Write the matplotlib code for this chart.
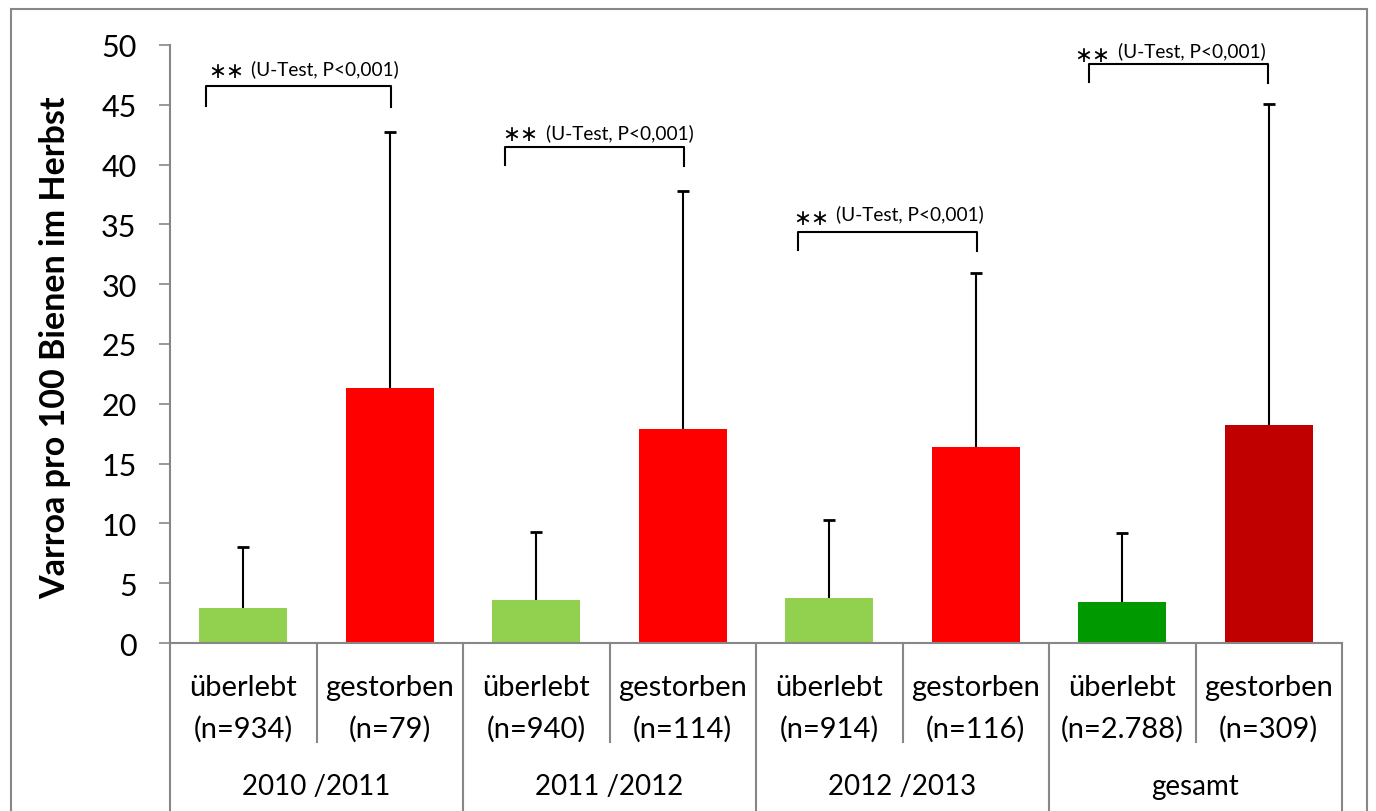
import numpy as np
import matplotlib.pyplot as plt
from matplotlib.patches import Rectangle

plt.rcParams['font.family'] = ['Lato', 'DejaVu Sans']

# Varroa load per 100 bees in autumn, by winter outcome
groups = ['2010 /2011', '2011 /2012', '2012 /2013', 'gesamt']
status = ['überlebt', 'gestorben'] * 4
n_labels = ['(n=934)', '(n=79)', '(n=940)', '(n=114)',
            '(n=914)', '(n=116)', '(n=2.788)', '(n=309)']
means = np.array([2.9, 21.3, 3.6, 17.9, 3.8, 16.4, 3.4, 18.2])
sd = np.array([5.1, 21.4, 5.7, 19.9, 6.5, 14.5, 5.8, 26.9])
colors = ['#92D050', '#FF0000', '#92D050', '#FF0000',
          '#92D050', '#FF0000', '#009900', '#C00000']
test_label = '(U-Test, P<0,001)'

axis_gray = '#878787'

fig = plt.figure(figsize=(13.76, 8.12), dpi=100)
ax = fig.add_axes([170/1376, 1 - 644/812, 1172/1376, 598/812])

x = np.arange(len(means))
ax.bar(x, means, width=0.6, color=colors, zorder=2)
ax.errorbar(x, means, yerr=[np.zeros_like(sd), sd], fmt='none',
            ecolor='black', elinewidth=1.5, capsize=0, zorder=3)
ax.plot(x, means + sd, linestyle='none', marker='_', markersize=9,
        markeredgewidth=2, color='black', zorder=3)

ax.set_xlim(-0.5, 7.5)
ax.set_ylim(0, 50)
ax.set_yticks(np.arange(0, 51, 5))
ax.tick_params(axis='y', length=8, width=1.2, color=axis_gray, pad=16,
               labelsize=22)
ax.set_xticks(x)
ax.set_xticklabels([s + '\n' + n for s, n in zip(status, n_labels)],
                   fontsize=21, linespacing=1.65)
ax.tick_params(axis='x', length=0, pad=22.5)

for side in ['top', 'right']:
    ax.spines[side].set_visible(False)
for side in ['left', 'bottom']:
    ax.spines[side].set_color(axis_gray)
    ax.spines[side].set_linewidth(1.5)

ax.set_ylabel('Varroa pro 100 Bienen im Herbst', fontsize=24.5,
              fontweight='bold', va='center')
ax.yaxis.set_label_coords(-0.098, 0.495)

# category dividers below the axis
xt = ax.get_xaxis_transform()
for b in np.arange(-0.5, 8, 1.0):
    low = -0.35 if (b + 0.5) % 2 == 0 else -0.166
    ax.plot([b, b], [0, low], color=axis_gray, lw=1.5, transform=xt,
            clip_on=False)
for i, g in enumerate(groups):
    ax.text(2 * i + 0.5, -0.2386, g, transform=xt, ha='center',
            va='center', fontsize=20)

# significance brackets: left, right, top, bottom, star x, star y, text x, text y
brackets = [
    (-0.254, 1.008, 46.6, 44.9, -0.240, 47.8, 0.053, 48.1),
    (1.790, 3.009, 41.5, 40.0, 1.771, 42.6, 2.067, 42.7),
    (3.790, 5.007, 34.4, 32.9, 3.753, 35.5, 4.047, 35.9),
    (5.770, 6.995, 48.4, 46.9, 5.670, 49.2, 5.973, 49.6),
]
for xl, xr, yt, yb, sx, sy, tx, ty in brackets:
    ax.plot([xl, xl, xr, xr], [yb, yt, yt, yb - 0.1], color='black',
            lw=1.5, clip_on=False)
    ax.text(sx, sy, '\u2217\u2217', fontsize=15.5, ha='left', va='center',
            family='DejaVu Sans')
    ax.text(tx, ty, test_label, fontsize=13.7, ha='left', va='center')

fig.patches.append(Rectangle((11/1376, -0.1), 1356/1376, 1.1 - 9.5/812,
                             transform=fig.transFigure, fill=False,
                             edgecolor=axis_gray, lw=1.5))

fig.savefig('out.png', dpi=100)
